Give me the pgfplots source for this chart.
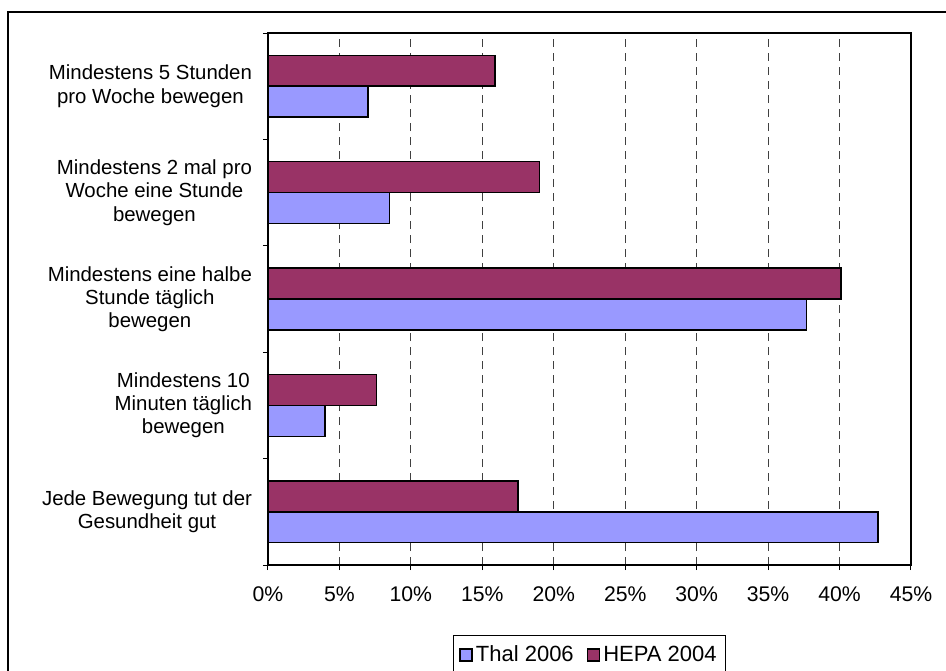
\documentclass[border=0pt]{standalone}
\usepackage{pgfplots}
\pgfplotsset{compat=1.18}
\usepackage{fontspec}
\setmainfont{Liberation Sans}
\definecolor{thal}{HTML}{9999FF}
\definecolor{hepa}{HTML}{993366}
\begin{document}
\begin{tikzpicture}
\useasboundingbox (-134pt,-52.5pt) rectangle (339pt,282.5pt);
\draw[line width=0.7pt] (-130pt,-60pt) -- (-130pt,276.5pt) -- (345pt,276.5pt);
\begin{axis}[
    at={(0pt,0pt)}, anchor=south west,
    scale only axis, width=321.5pt, height=266pt,
    xbar, bar width=0.29,
    xmin=0, xmax=45, ymin=-0.5, ymax=4.5,
    xtick={0,5,...,45},
    xticklabel={\pgfmathprintnumber{\tick}\%},
    ytick={0,1,2,3,4},
    yticklabels={{Jede Bewegung tut der\\Gesundheit gut},
                 {Mindestens 10\\Minuten täglich\\bewegen},
                 {Mindestens eine halbe\\Stunde täglich\\bewegen},
                 {Mindestens 2 mal pro\\Woche eine Stunde\\bewegen},
                 {Mindestens 5 Stunden\\pro Woche bewegen}},
    minor ytick={-0.5,0.5,...,4.5},
    xtick pos=bottom, ytick pos=left,
    ytick style={draw=none},
    minor y tick style={draw=black, line width=0.5pt},
    x tick style={black, line width=0.5pt},
    tick align=outside,
    major tick length=2.5pt, minor tick length=2.5pt,
    xmajorgrids, major grid style={black!75, line width=0.5pt, dash pattern=on 4pt off 3pt},
    axis line style={line width=0.75pt},
    yticklabel style={align=center, xshift=-2pt, font=\fontsize{10.2}{11.6}\selectfont},
    xticklabel style={yshift=-5pt, font=\fontsize{10.6}{12}\selectfont},
    /pgf/number format/assume math mode=true,
    legend style={at={(0.5,-0.1316)}, anchor=north, legend columns=2,
        draw=black, line width=0.5pt, font=\fontsize{11}{13}\selectfont,
        inner xsep=3pt, inner ysep=3pt,
        nodes={inner xsep=1.5pt},
        /tikz/every even column/.append style={column sep=5pt}},
    legend image code/.code={\draw[#1, line width=0.75pt] (0pt,-3pt) rectangle (6pt,3pt);},
    clip=false,
]
\addplot[bar shift=-0.145, fill=thal, draw=black, line width=0.75pt]
    coordinates {(42.7,0) (4.0,1) (37.7,2) (8.5,3) (7.0,4)};
\addlegendentry{Thal 2006}
\addplot[bar shift=0.145, fill=hepa, draw=black, line width=0.75pt]
    coordinates {(17.5,0) (7.6,1) (40.1,2) (19.0,3) (15.9,4)};
\addlegendentry{HEPA 2004}
\end{axis}
\end{tikzpicture}
\end{document}
